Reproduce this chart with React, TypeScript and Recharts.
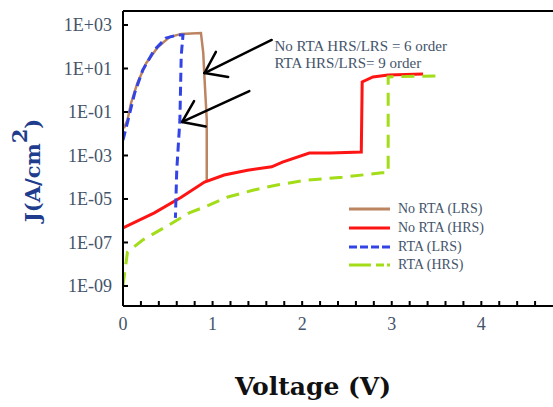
import React from 'react';
import { LineChart, Line, XAxis, YAxis, Legend, ReferenceLine, ReferenceDot } from 'recharts';

// ---- data (voltage V, current density J in A/cm^2) ----
const noRtaLrsV = [0.01, 0.05, 0.09, 0.16, 0.26, 0.39, 0.52, 0.65, 0.87, 0.896, 0.909, 0.935, 0.935];
const noRtaLrsJ = [1.8e-2, 4.3e-2, 0.26, 2.1, 18, 98, 280, 390, 430, 51, 4.1, 0.043, 6e-5];

const noRtaHrsV = [0, 0.35, 0.65, 0.91, 1.13, 1.39, 1.66, 1.78, 2.08, 2.31, 2.66, 2.67, 2.79, 2.96, 3.35];
const noRtaHrsJ = [4.7e-7, 2.3e-6, 1.2e-5, 6e-5, 1.26e-4, 2.1e-4, 3e-4, 5e-4, 1.3e-3, 1.3e-3, 1.45e-3, 2.4, 4.1, 5.0, 5.6];

const rtaLrsV = [0, 0.065, 0.13, 0.22, 0.35, 0.48, 0.61, 0.67, 0.65, 0.635, 0.6, 0.585];
const rtaLrsJ = [5.1e-3, 0.059, 0.74, 8.5, 71, 250, 350, 350, 40, 0.043, 2.1e-4, 1.35e-6];

const rtaHrsV = [0, 0.05, 0.08, 0.22, 0.51, 0.74, 0.91, 1.17, 1.46, 1.72, 2.05, 2.45, 2.89, 2.96, 2.96, 3.52];
const rtaHrsJ = [1.1e-9, 3.6e-8, 4.6e-8, 1.3e-7, 6.3e-7, 2.3e-6, 4.3e-6, 1.23e-5, 2.6e-5, 4.4e-5, 7.4e-5, 1.0e-4, 1.6e-4, 1.6e-4, 4.1, 4.6];

const seriesNames = ['No RTA (LRS)', 'No RTA (HRS)', 'RTA (LRS)', 'RTA (HRS)'];

// ---- ticks ----
const xMajorTicks = [0, 1, 2, 3, 4];
const xAllTicks = [0, 0.2, 0.4, 0.6, 0.8, 1, 1.2, 1.4, 1.6, 1.8, 2, 2.2, 2.4, 2.6, 2.8, 3, 3.2, 3.4, 3.6, 3.8, 4, 4.2, 4.4, 4.6];
const yTicks = [1e3, 1e1, 1e-1, 1e-3, 1e-5, 1e-7, 1e-9];
const yTickLabels = ['1E+03', '1E+01', '1E-01', '1E-03', '1E-05', '1E-07', '1E-09'];

// ---- annotations (data coordinates) ----
const annotationLines = ['No RTA HRS/LRS = 6 order', 'RTA HRS/LRS= 9 order'];
const annotationAnchor = { v: 1.69, j: 64 };
const arrow1 = [{ v: 1.66, j: 205 }, { v: 0.91, j: 6.2 }];
const arrow2 = [{ v: 1.41, j: 0.92 }, { v: 0.66, j: 0.035 }];

// ---- styling ----
const seriesColors = ['#BC8460', '#FF1414', '#3344E6', '#A2DD18'];
const seriesWidths = [2.5, 3, 3, 3];
const seriesDashes: (string | undefined)[] = [undefined, undefined, '9 5', '13 8'];
const legendDashes: (string | undefined)[] = [undefined, undefined, '8 3', '22 5 8 3 8'];
const textGray = '#44546A';
const serif = '"Liberation Serif", "Times New Roman", serif';
const boldSerif = '"DejaVu Serif", serif';
const X_TICK_MARGIN = 11;
const Y_TICK_MARGIN = 11;
const INNER_TICK = 5;

const toPoints = (v: number[], j: number[]) => v.map((x, i) => ({ v: x, j: j[i] }));
const seriesData = [
  toPoints(noRtaLrsV, noRtaLrsJ),
  toPoints(noRtaHrsV, noRtaHrsJ),
  toPoints(rtaLrsV, rtaLrsJ),
  toPoints(rtaHrsV, rtaHrsJ),
];

const formatX = (v: number) => (xMajorTicks.includes(v) ? String(v) : '');
const formatY = (v: number) => {
  const idx = yTicks.findIndex((t) => Math.abs(Math.log10(t) - Math.log10(v)) < 1e-6);
  return idx >= 0 ? yTickLabels[idx] : '';
};

// bottom-axis tick: inward tick mark + label below
const XTick = (props: any) => {
  const { x, y, payload } = props;
  const axisY = Number(y) - X_TICK_MARGIN;
  const label = formatX(payload.value);
  return (
    <g>
      <rect x={Number(x) - 1} y={axisY - INNER_TICK} width={2} height={INNER_TICK} fill="#000" />
      {label !== '' && (
        <text x={x} y={y} dy="0.71em" textAnchor="middle" fontFamily={serif} fontSize={18} fill={textGray}>
          {label}
        </text>
      )}
    </g>
  );
};

// left-axis tick: inward tick mark + label to the left
const YTick = (props: any) => {
  const { x, y, payload } = props;
  const axisX = Number(x) + Y_TICK_MARGIN;
  return (
    <g>
      <rect x={axisX} y={Number(y) - 1} width={INNER_TICK} height={2} fill="#000" />
      <text x={x} y={y} dy="0.34em" textAnchor="end" fontFamily={serif} fontSize={18} fill={textGray}>
        {formatY(payload.value)}
      </text>
    </g>
  );
};

const ArrowShape = (props: any) => {
  const { x1, y1, x2, y2 } = props;
  const ang = Math.atan2(y1 - y2, x1 - x2);
  const len = 24;
  const spread = 0.62;
  return (
    <g stroke="#000" strokeWidth={2.5} strokeLinecap="round" fill="none">
      <line x1={x1} y1={y1} x2={x2} y2={y2} />
      <line x1={x2} y1={y2} x2={x2 + len * Math.cos(ang + spread)} y2={y2 + len * Math.sin(ang + spread)} />
      <line x1={x2} y1={y2} x2={x2 + len * Math.cos(ang - spread)} y2={y2 + len * Math.sin(ang - spread)} />
    </g>
  );
};

const AnnotationShape = (props: any) => {
  const { cx, cy } = props;
  return (
    <text x={cx} y={cy} fontFamily={serif} fontSize={15} fill={textGray}>
      {annotationLines.map((t, i) => (
        <tspan key={t} x={cx} dy={i === 0 ? 0 : 17}>
          {t}
        </tspan>
      ))}
    </text>
  );
};

const YLabel = (props: any) => {
  const vb = props.viewBox || { x: 0, y: 0, width: 0, height: 0 };
  const cx = vb.x + 40;
  const cy = vb.y + vb.height / 2 + 12;
  return (
    <text
      x={cx}
      y={cy}
      transform={`rotate(-90 ${cx} ${cy})`}
      textAnchor="middle"
      fontFamily={boldSerif}
      fontWeight="bold"
      fontSize={21}
      fill="#203C8C"
    >
      J(A/cm
      <tspan dy={-13}>2</tspan>
      <tspan dy={13}>)</tspan>
    </text>
  );
};

const LegendContent = () => (
  <div style={{ fontFamily: serif, fontSize: 14, color: textGray }}>
    {seriesNames.map((n, i) => (
      <div key={n} style={{ display: 'flex', alignItems: 'center', height: 18.7 }}>
        <svg width={44} height={10} style={{ display: 'block' }}>
          <line
            x1={1}
            y1={5}
            x2={42}
            y2={5}
            stroke={seriesColors[i]}
            strokeWidth={3}
            strokeDasharray={legendDashes[i]}
          />
        </svg>
        <span style={{ marginLeft: 6, whiteSpace: 'nowrap' }}>{n}</span>
      </div>
    ))}
  </div>
);

export default function App() {
  return (
    <div style={{ position: 'absolute', left: 0, top: 0, width: 553, height: 407, overflow: 'hidden', background: '#fff' }}>
      <LineChart width={553} height={407} margin={{ top: 11, right: 0, left: 0, bottom: 0 }}>
        <XAxis
          dataKey="v"
          type="number"
          domain={[0, 4.8]}
          allowDataOverflow
          ticks={xAllTicks}
          interval={0}
          height={101}
          tickSize={0}
          tickMargin={X_TICK_MARGIN}
          tickLine={false}
          axisLine={{ stroke: '#000', strokeWidth: 2 }}
          tick={XTick}
          label={{
            value: 'Voltage (V)',
            position: 'insideBottom',
            offset: 12,
            dx: -25,
            style: { fontFamily: boldSerif, fontWeight: 'bold', fontSize: 25, fill: '#111' },
          }}
        />
        <YAxis
          dataKey="j"
          type="number"
          scale="log"
          domain={[1.2e-10, 4.4e3]}
          allowDataOverflow
          ticks={yTicks}
          interval={0}
          width={123}
          tickSize={0}
          tickMargin={Y_TICK_MARGIN}
          tickLine={false}
          axisLine={{ stroke: '#000', strokeWidth: 2 }}
          tick={YTick}
          label={{ content: YLabel }}
        />
        <ReferenceLine y={4.4e3} stroke="#000" strokeWidth={2} />
        {seriesData.map((d, i) => (
          <Line
            key={seriesNames[i]}
            data={d}
            dataKey="j"
            name={seriesNames[i]}
            type="linear"
            stroke={seriesColors[i]}
            strokeWidth={seriesWidths[i]}
            strokeDasharray={seriesDashes[i]}
            dot={false}
            activeDot={false}
            isAnimationActive={false}
          />
        ))}
        <ReferenceLine segment={[{ x: arrow1[0].v, y: arrow1[0].j }, { x: arrow1[1].v, y: arrow1[1].j }]} shape={ArrowShape} />
        <ReferenceLine segment={[{ x: arrow2[0].v, y: arrow2[0].j }, { x: arrow2[1].v, y: arrow2[1].j }]} shape={ArrowShape} />
        <ReferenceDot x={annotationAnchor.v} y={annotationAnchor.j} r={0} shape={AnnotationShape} />
        <Legend
          layout="horizontal"
          verticalAlign="middle"
          align="center"
          content={LegendContent}
          wrapperStyle={{ left: 348, top: 200, width: 'auto', height: 'auto' }}
        />
      </LineChart>
    </div>
  );
}
